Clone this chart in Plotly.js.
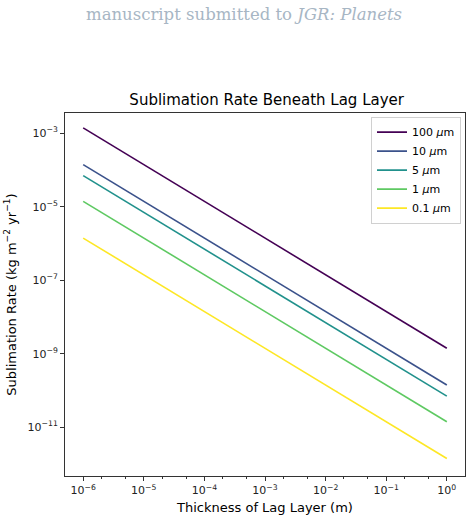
<!DOCTYPE html>
<html>
<head>
<meta charset="utf-8">
<script src="https://cdn.plot.ly/plotly-3.0.1.min.js"></script>
<style>
  html, body { margin: 0; padding: 0; background: #fff; }
  #chart { width: 472px; height: 519px; }
</style>
</head>
<body>
<div id="chart"></div>
<script>
// Lag-layer thickness (m), one point per decade
const thickness = [1e-6, 1e-5, 1e-4, 1e-3, 1e-2, 1e-1, 1e0];

// Sublimation rate (kg m^-2 yr^-1) for each grain size
const rate100um = [1.4e-3, 1.4e-4, 1.4e-5, 1.4e-6, 1.4e-7, 1.4e-8, 1.4e-9];
const rate10um  = [1.4e-4, 1.4e-5, 1.4e-6, 1.4e-7, 1.4e-8, 1.4e-9, 1.4e-10];
const rate5um   = [7.0e-5, 7.0e-6, 7.0e-7, 7.0e-8, 7.0e-9, 7.0e-10, 7.0e-11];
const rate1um   = [1.4e-5, 1.4e-6, 1.4e-7, 1.4e-8, 1.4e-9, 1.4e-10, 1.4e-11];
const rate01um  = [1.4e-6, 1.4e-7, 1.4e-8, 1.4e-9, 1.4e-10, 1.4e-11, 1.4e-12];

const seriesNames = ['100 <i>μ</i>m', '10 <i>μ</i>m', '5 <i>μ</i>m', '1 <i>μ</i>m', '0.1 <i>μ</i>m'];
const seriesRates = [rate100um, rate10um, rate5um, rate1um, rate01um];
const seriesColors = ['#440154', '#3b528b', '#21918c', '#5ec962', '#fde725'];

const xTickVals = [1e-6, 1e-5, 1e-4, 1e-3, 1e-2, 1e-1, 1e0];
const xTickText = ['10<sup>−6</sup>', '10<sup>−5</sup>', '10<sup>−4</sup>', '10<sup>−3</sup>',
                   '10<sup>−2</sup>', '10<sup>−1</sup>', '10<sup>0</sup>'];
const yTickVals = [1e-11, 1e-9, 1e-7, 1e-5, 1e-3];
const yTickText = ['10<sup>−11</sup>', '10<sup>−9</sup>', '10<sup>−7</sup>', '10<sup>−5</sup>', '10<sup>−3</sup>'];

const traces = seriesRates.map((r, i) => ({
  x: thickness,
  y: r,
  type: 'scatter',
  mode: 'lines',
  name: seriesNames[i],
  line: { color: seriesColors[i], width: 1.6 }
}));

const font = 'DejaVu Sans, sans-serif';

const layout = {
  width: 472,
  height: 519,
  margin: { l: 65, r: 7, t: 113, b: 43 },
  paper_bgcolor: '#fff',
  plot_bgcolor: '#fff',
  font: { family: font, color: '#000', size: 11 },
  title: {
    text: 'Sublimation Rate Beneath Lag Layer',
    font: { family: font, size: 15, color: '#000' },
    x: 0.565, xanchor: 'center',
    y: 1 - 100 / 519, yanchor: 'middle'
  },
  xaxis: {
    type: 'log',
    range: [-6.3, 0.3],
    tickvals: xTickVals,
    ticktext: xTickText,
    ticks: 'outside', ticklen: 4, tickcolor: '#333',
    minor: { ticks: 'outside', ticklen: 2, tickcolor: '#333', showgrid: false },
    showgrid: false, zeroline: false,
    showline: true, linecolor: '#333', linewidth: 1, mirror: true,
    tickfont: { family: font, size: 11, color: '#222' },
    title: { text: 'Thickness of Lag Layer (m)', font: { family: font, size: 13, color: '#000' }, standoff: 6 }
  },
  yaxis: {
    type: 'log',
    range: [-12.33, -2.45],
    tickvals: yTickVals,
    ticktext: yTickText,
    ticks: 'outside', ticklen: 4, tickcolor: '#333',
    showgrid: false, zeroline: false,
    showline: true, linecolor: '#333', linewidth: 1, mirror: true,
    tickfont: { family: font, size: 11, color: '#222' },
    title: { text: 'Sublimation Rate (kg m<sup>−2</sup> yr<sup>−1</sup>)', font: { family: font, size: 13, color: '#000' }, standoff: 8 }
  },
  legend: {
    x: 0.99, y: 0.99, xanchor: 'right', yanchor: 'top',
    bgcolor: 'rgba(255,255,255,0.8)',
    bordercolor: '#d0d0d0', borderwidth: 1,
    font: { family: font, size: 11, color: '#000' },
    itemwidth: 30,
    tracegroupgap: 0
  },
  // Running header above the plot area
  annotations: [{
    xref: 'paper', yref: 'paper',
    x: (244 - 65) / 400, xanchor: 'center',
    y: (476 - 14) / 363, yanchor: 'middle',
    text: 'manuscript submitted to <i>JGR: Planets</i>',
    font: { family: 'DejaVu Serif, Liberation Serif, serif', size: 16.5, color: '#a7b6c4' },
    showarrow: false
  }],
  showlegend: true
};

Plotly.newPlot('chart', traces, layout, { displayModeBar: false, staticPlot: true });
</script>
</body>
</html>
